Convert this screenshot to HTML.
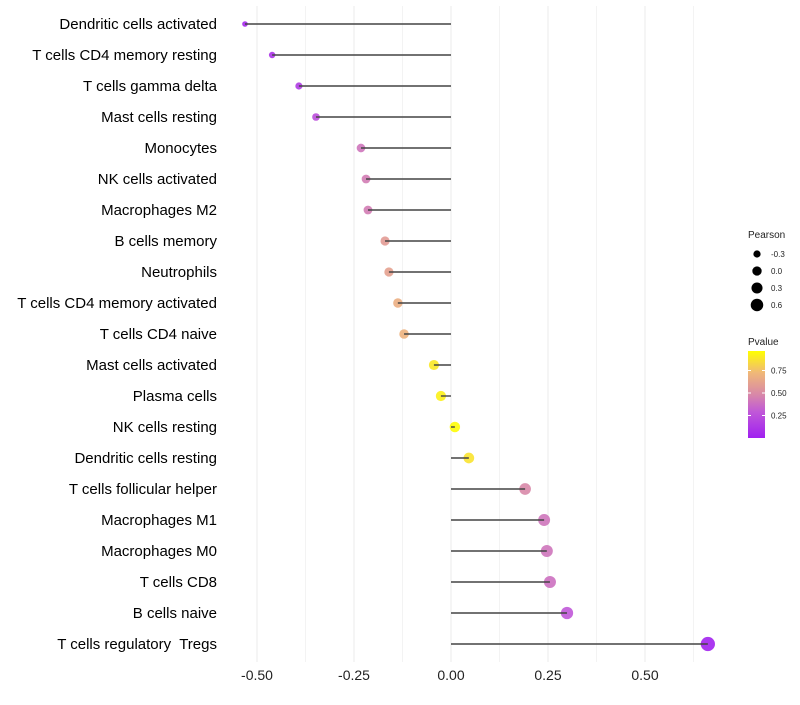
<!DOCTYPE html>
<html><head><meta charset="utf-8"><style>
body{margin:0;background:#fff;font-family:"Liberation Sans",sans-serif}
svg text{font-family:"Liberation Sans",sans-serif}
</style></head><body>
<svg id="c" width="800" height="700">
<defs><linearGradient id="pg" x1="0" y1="1" x2="0" y2="0">
<stop offset="0" stop-color="#A020F0"/><stop offset="0.3" stop-color="#C058D8"/><stop offset="0.5" stop-color="#D888A8"/><stop offset="0.75" stop-color="#F0B878"/><stop offset="1" stop-color="#FFFF00"/></linearGradient></defs>
</svg>
<script>
const categories=["Dendritic cells activated","T cells CD4 memory resting","T cells gamma delta","Mast cells resting","Monocytes","NK cells activated","Macrophages M2","B cells memory","Neutrophils","T cells CD4 memory activated","T cells CD4 naive","Mast cells activated","Plasma cells","NK cells resting","Dendritic cells resting","T cells follicular helper","Macrophages M1","Macrophages M0","T cells CD8","B cells naive","T cells regulatory  Tregs"];
const pearson=[-0.531,-0.461,-0.392,-0.348,-0.232,-0.219,-0.214,-0.170,-0.160,-0.137,-0.121,-0.044,-0.026,0.010,0.046,0.191,0.240,0.247,0.255,0.299,0.662];
const pvalues=[0.05,0.1,0.15,0.25,0.42,0.45,0.45,0.6,0.63,0.7,0.72,0.92,0.95,0.99,0.9,0.5,0.42,0.42,0.4,0.3,0.02];
const xTicks=[-0.5,-0.25,0,0.25,0.5];
const xTickLabels=["-0.50","-0.25","0.00","0.25","0.50"];
const sizeLegend=[-0.3,0,0.3,0.6];
const pLegend=[0.25,0.5,0.75];
const NS="http://www.w3.org/2000/svg",svg=document.getElementById('c');
const x=v=>451+v*388, y=i=>24+i*31;
const r=v=>Math.sqrt(Math.max(2.5,27+36*v));
const stops=[[0,[160,32,240]],[0.3,[192,88,216]],[0.5,[216,136,168]],[0.75,[240,184,120]],[1,[255,255,0]]];
function col(p){for(let k=1;k<stops.length;k++){if(p<=stops[k][0]){const a=stops[k-1],b=stops[k],t=(p-a[0])/(b[0]-a[0]);return 'rgb('+a[1].map((c,j)=>Math.round(c+(b[1][j]-c)*t)).join(',')+')';}}return 'rgb(255,255,0)';}
function el(t,a,txt){const e=document.createElementNS(NS,t);for(const k in a)e.setAttribute(k,a[k]);if(txt!==undefined)e.textContent=txt;svg.appendChild(e);return e;}
for(let v=-0.5;v<=0.7;v+=0.125){const g=el('line',{x1:x(v),x2:x(v),y1:6,y2:662,stroke:'#ebebeb','stroke-width':Math.abs(v*4-Math.round(v*4))<0.01?1:0.6});

}
xTicks.forEach((v,i)=>{const t=el('text',{x:x(v),y:680,'text-anchor':'middle','font-size':14,fill:'#222'},xTickLabels[i]);

});
categories.forEach((c,i)=>{
const t=el('text',{x:217,y:y(i)+5,'text-anchor':'end','font-size':15,fill:'#000'},c);
t.setAttribute('xml:space','preserve');
t.style.whiteSpace='pre';


const p=el('circle',{cx:x(pearson[i]),cy:y(i),r:r(pearson[i]),fill:col(pvalues[i]),'fill-opacity':0.9});


const s=el('line',{x1:x(0),x2:x(pearson[i]),y1:y(i),y2:y(i),stroke:'#444','stroke-width':1.4});


});
el('text',{x:748,y:238,'font-size':10,fill:'#222'},'Pearson');
sizeLegend.forEach((v,i)=>{const cy=254+i*17;
const c=el('circle',{cx:757,cy:cy,r:r(v)*0.9,fill:'#000'});


el('text',{x:771,y:cy+3,'font-size':8,fill:'#222'},v.toFixed(1));});
el('text',{x:748,y:345,'font-size':10,fill:'#222'},'Pvalue');
const bar=el('rect',{x:748,y:351,width:17,height:87,fill:'url(#pg)'});


pLegend.forEach(v=>{const cy=438-v*90;
el('line',{x1:748,x2:751,y1:cy,y2:cy,stroke:'#fff'});el('line',{x1:762,x2:765,y1:cy,y2:cy,stroke:'#fff'});
el('text',{x:771,y:cy+3,'font-size':8,fill:'#222'},v.toFixed(2));});
</script>
</body></html>
